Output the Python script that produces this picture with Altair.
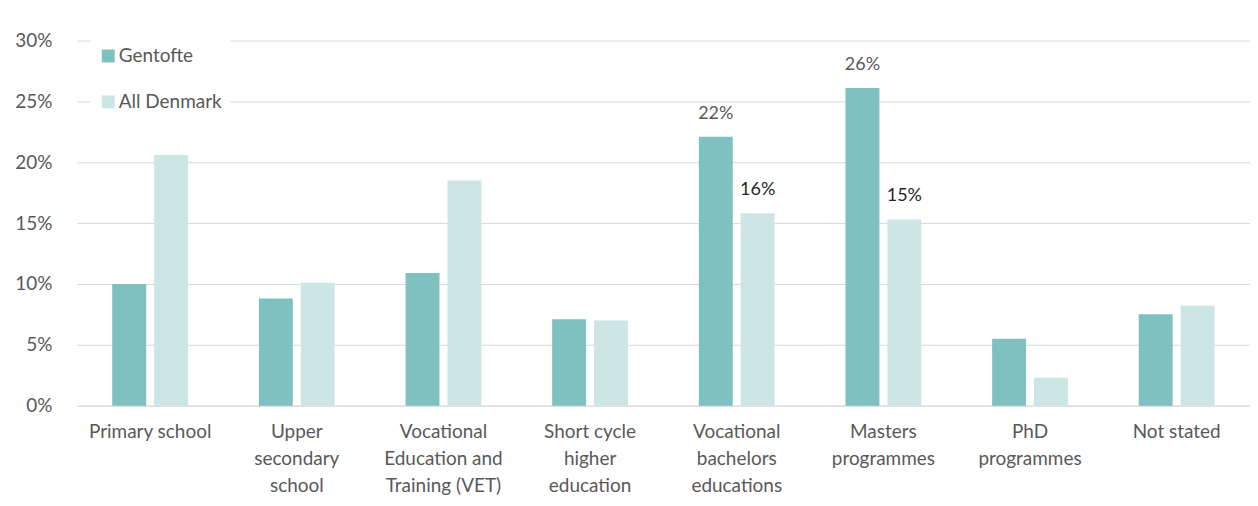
import altair as alt
import pandas as pd

categories = [
    "Primary school",
    "Upper\nsecondary\nschool",
    "Vocational\nEducation and\nTraining (VET)",
    "Short cycle\nhigher\neducation",
    "Vocational\nbachelors\neducations",
    "Masters\nprogrammes",
    "PhD\nprogrammes",
    "Not stated",
]
series = ["Gentofte", "All Denmark"]
gentofte = [10.0, 8.8, 10.9, 7.1, 22.1, 26.1, 5.5, 7.5]
all_denmark = [20.6, 10.1, 18.5, 7.0, 15.8, 15.3, 2.3, 8.2]
gentofte_labels = ["", "", "", "", "22%", "26%", "", ""]
all_denmark_labels = ["", "", "", "", "16%", "15%", "", ""]

rows = []
for i, c in enumerate(categories):
    rows.append({"cat": c, "series": "Gentofte", "value": gentofte[i] / 100, "label": gentofte_labels[i]})
    rows.append({"cat": c, "series": "All Denmark", "value": all_denmark[i] / 100, "label": all_denmark_labels[i]})
df = pd.DataFrame(rows)

FONT = "Lato"
GRAY = "#595959"

x = alt.X("cat:N", sort=categories, title=None,
          scale=alt.Scale(paddingInner=0.483, paddingOuter=0.2415),
          axis=alt.Axis(labelAngle=0, labelExpr="split(datum.label, '\\n')",
                        labelLineHeight=27, labelPadding=17, labelFontSize=19,
                        labelColor=GRAY, labelFont=FONT, ticks=False,
                        domainColor="#d9d9d9", labelLimit=200, labelBaseline="top"))
xo = alt.XOffset("series:N", sort=series,
                 scale=alt.Scale(paddingInner=0.19, paddingOuter=0))
y = alt.Y("value:Q", title=None,
          scale=alt.Scale(domain=[0, 0.3], nice=False),
          axis=alt.Axis(format=".0%", values=[0, 0.05, 0.1, 0.15, 0.2, 0.25, 0.3],
                        labelFontSize=19, labelColor=GRAY, labelFont=FONT,
                        ticks=False, domain=False, gridColor="#d9d9d9",
                        labelPadding=25))

color = alt.Color("series:N", sort=series,
                  scale=alt.Scale(domain=series, range=["#7fc1c1", "#cce6e6"]),
                  legend=alt.Legend(title=None, orient="none", legendX=14, legendY=-2,
                                    fillColor="white", padding=8, symbolType="square",
                                    symbolSize=169, symbolStrokeWidth=0,
                                    labelFontSize=19, labelColor=GRAY, labelFont=FONT,
                                    rowPadding=26, labelOffset=1))

bars = alt.Chart(df).mark_bar().encode(x=x, xOffset=xo, y=y, color=color)

labels = alt.Chart(df).mark_text(baseline="alphabetic", dy=-18, fontSize=18, font=FONT).encode(
    x=x, xOffset=xo, y=y, text="label:N",
    color=alt.Color("series:N", sort=series,
                    scale=alt.Scale(domain=series, range=["#595959", "#262626"]), legend=None),
).transform_filter("datum.label != ''")

chart = alt.layer(bars, labels).resolve_scale(color="independent").properties(
    width=1176, height=366,
    autosize=alt.AutoSizeParams(type="none"),
    padding={"left": 69, "top": 32, "right": 0, "bottom": 92},
).configure_view(stroke=None)

chart.save("out.html", embed_options={"renderer": "svg", "actions": False})
